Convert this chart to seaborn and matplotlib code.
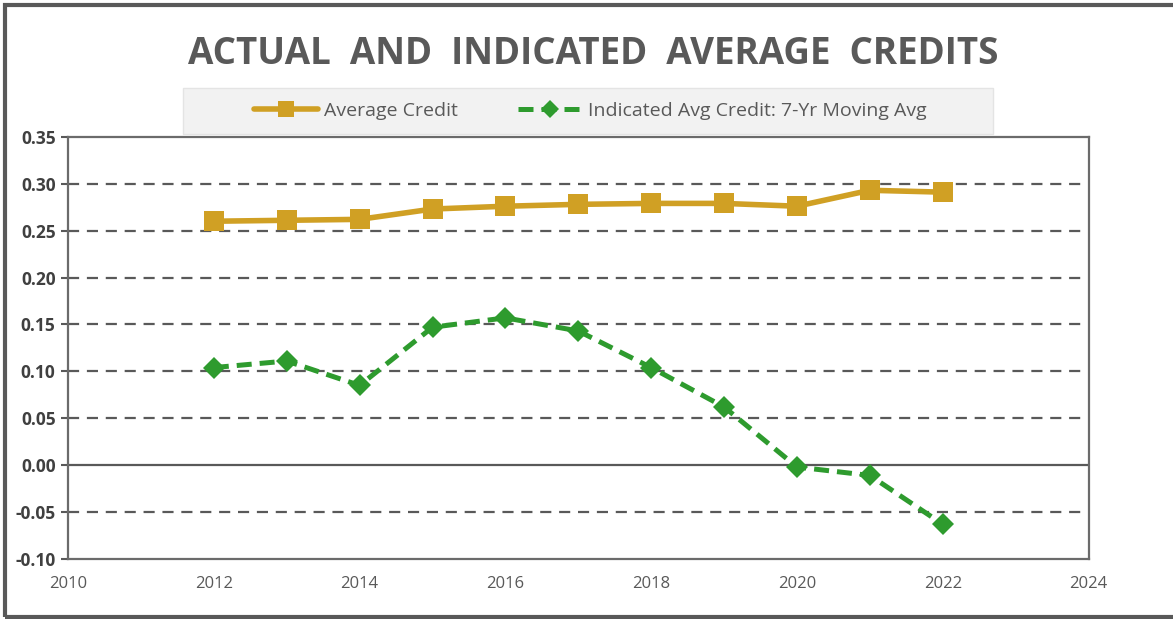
import pandas as pd
import matplotlib.pyplot as plt
import seaborn as sns
from matplotlib.patches import Rectangle

# Dados
anos = [2012, 2013, 2014, 2015, 2016, 2017, 2018, 2019, 2020, 2021, 2022]
credito_medio = [0.260, 0.261, 0.262, 0.273, 0.276, 0.278, 0.279, 0.279, 0.276, 0.293, 0.291]
credito_indicado = [0.104, 0.111, 0.085, 0.147, 0.157, 0.143, 0.104, 0.062, -0.002, -0.011, -0.063]
y_ticks = [-0.10, -0.05, 0.00, 0.05, 0.10, 0.15, 0.20, 0.25, 0.30, 0.35]
x_ticks = [2010, 2012, 2014, 2016, 2018, 2020, 2022, 2024]

df = pd.DataFrame({'ano': anos, 'medio': credito_medio, 'indicado': credito_indicado})

sns.set_style('white')
plt.rcParams['font.family'] = ['Open Sans', 'DejaVu Sans']

fig = plt.figure(figsize=(11.73, 6.19), dpi=100)
ax = fig.add_axes([0.058, 0.097, 0.870, 0.682])

ouro = '#D0A024'
verde = '#2E9B2E'
cinza = '#595959'

# Linhas de grade tracejadas
for v in y_ticks[1:-1]:
    if v == 0:
        ax.axhline(v, color=cinza, lw=1.6, zorder=1)
    else:
        ax.axhline(v, color=cinza, lw=1.6, ls=(0, (5, 3.5)), zorder=1)

sns.lineplot(data=df, x='ano', y='medio', ax=ax, color=ouro, lw=4, marker='s',
             markersize=14, markeredgewidth=0, label='Average Credit', zorder=3)
sns.lineplot(data=df, x='ano', y='indicado', ax=ax, color=verde, lw=3.6, ls=(0, (3, 1.6)),
             marker='D', markersize=11, markeredgewidth=0,
             label='Indicated Avg Credit: 7-Yr Moving Avg', zorder=3)

ax.set_xlim(2010, 2024)
ax.set_ylim(-0.10, 0.35)
ax.set_xticks(x_ticks)
ax.set_yticks(y_ticks)
ax.set_yticklabels([f'{v:.2f}' for v in y_ticks], fontsize=12.5, fontweight='bold', color='#404040')
ax.set_xticklabels([str(v) for v in x_ticks], fontsize=12, color=cinza)
ax.tick_params(axis='y', left=True, length=5, width=1.5, color=cinza, pad=4)
ax.tick_params(axis='x', length=0, pad=12)
ax.set_xlabel('')
ax.set_ylabel('')
for s in ax.spines.values():
    s.set_color('#6b6b6b')
    s.set_linewidth(1.6)

# Caixa da legenda
fig.patches.append(Rectangle((0.156, 0.7835), 0.6905, 0.0745, transform=fig.transFigure,
                             facecolor='#f2f2f2', edgecolor='#e4e4e4', lw=1, zorder=0))

handles, labels = ax.get_legend_handles_labels()
ax.get_legend().remove()
leg = fig.legend(handles, labels, loc='center', ncol=2, bbox_to_anchor=(0.503, 0.821),
                 frameon=False, fontsize=14, handlelength=3.3, handletextpad=0.3,
                 columnspacing=3.1, markerscale=0.8, labelcolor=cinza)

fig.text(0.506, 0.912, 'ACTUAL  AND  INDICATED  AVERAGE  CREDITS', ha='center', va='center',
         fontsize=26.5, fontweight='bold', color=cinza)

# Moldura externa
fig.patches.append(Rectangle((0.004, 0.004), 1.1, 0.988, transform=fig.transFigure,
                             fill=False, edgecolor=cinza, lw=3))

fig.savefig('out.png', dpi=100)
